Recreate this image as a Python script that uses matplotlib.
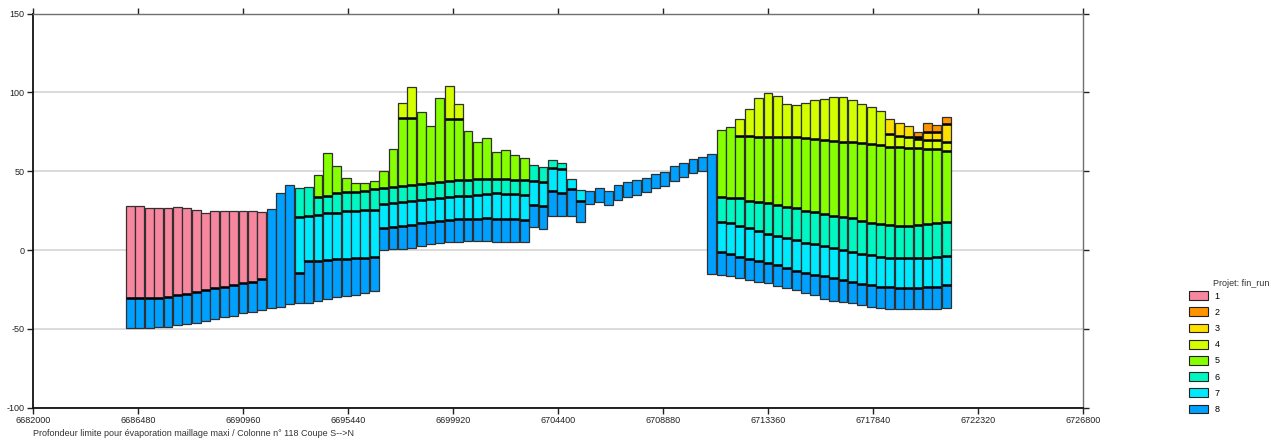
import numpy as np
import matplotlib.pyplot as plt
from matplotlib.patches import Patch

plt.rcParams['font.family'] = ['Liberation Sans', 'DejaVu Sans']
plt.rcParams['axes.unicode_minus'] = False

# --- cross-section S->N, one column every 400 m ---
first_cell = 6686160
cell_size = 400
n_cells = 88

# bottom of the deepest layer (8)
base = ([-49.6, -49.6, -49.6, -49.0, -48.6, -47.7, -46.9, -46.1, -45.0, -43.9, -42.6, -41.8, -40.1, -39.3, -38.0]
        + [-36.9, -35.8, -34.3]
        + [-33.8, -33.4, -32.1, -31.2, -30.0, -29.1, -28.5, -27.4, -25.8]
        + [0.0, 0.8, 0.9, 1.5, 2.6, 3.7, 4.3, 4.9, 5.3, 5.8, 5.8, 5.8, 5.3, 5.3, 5.1, 5.2]
        + [14.9, 13.2, 21.7, 21.6, 21.6, 17.6]
        + [29.0, 30.7, 28.6, 31.8, 33.5, 35.0, 37.1, 39.2, 40.7, 44.0, 46.6, 48.7, 50.4]
        + [-15.2]
        + [-15.8, -16.6, -18.0, -18.8, -20.0, -21.1, -22.5, -24.0, -25.4, -27.1, -28.5, -30.8]
        + [-32.0, -33.0, -33.8, -35.0, -36.1, -37.0, -37.6, -37.6, -37.6, -37.6, -37.6, -37.6, -37.0])

# top of each layer (None = layer absent in that column)
top8 = ([-30.6, -30.2, -30.2, -30.2, -29.6, -28.5, -27.9, -26.6, -25.3, -24.2, -23.2, -22.1, -21.1, -20.2, -18.5]
        + [26.0, 36.4, 41.3]
        + [-14.3, -6.9, -6.7, -6.3, -5.9, -5.6, -5.2, -4.8, -4.6]
        + [14.0, 14.7, 15.5, 15.9, 17.0, 17.6, 18.5, 19.1, 19.5, 19.7, 19.9, 20.1, 19.9, 19.7, 19.5, 19.1]
        + [28.8, 27.7, 37.7, 36.0, 38.6, 31.4]
        + [37.7, 39.6, 37.7, 41.3, 43.0, 44.5, 45.9, 48.1, 49.4, 53.6, 55.5, 57.6, 59.3]
        + [60.8]
        + [-1.2, -2.3, -4.2, -5.4, -6.7, -8.0, -9.7, -11.5, -13.1, -14.5, -15.6, -16.7]
        + [-17.9, -19.2, -20.2, -21.6, -22.4, -23.2, -23.6, -23.8, -23.8, -23.8, -23.6, -23.2, -22.1])

top7 = ([None] * 18
        + [21.2, 21.6, 22.3, 23.7, 23.7, 24.6, 25.0, 25.4, 25.5]
        + [29.5, 30.2, 30.7, 31.4, 31.8, 32.2, 32.9, 33.5, 34.3, 34.5, 35.0, 35.4, 36.0, 35.6, 35.4, 35.2]
        + [43.8, 43.2, 52.1, 51.5, 45.1, 38.1]
        + [None] * 14
        + [18.0, 17.0, 15.3, 13.8, 12.1, 10.2, 8.9, 7.5, 6.4, 4.7, 3.7, 2.4]
        + [1.1, 0.0, -1.2, -2.3, -3.3, -4.4, -4.9, -5.0, -5.1, -5.1, -4.9, -4.6, -3.5])

top6 = ([None] * 18
        + [39.2, 40.2, 33.5, 34.3, 36.0, 36.7, 37.1, 37.7, 38.6]
        + [39.5, 40.2, 40.7, 41.5, 42.1, 42.6, 43.4, 44.1, 44.7, 44.7, 44.9, 45.3, 45.4, 45.0, 44.7, 44.6]
        + [53.7, 52.9, 57.2, 55.5]
        + [None] * 16
        + [33.5, 32.8, 32.8, 31.4, 30.7, 29.7, 28.6, 27.5, 26.5, 24.8, 24.0, 22.6]
        + [21.6, 20.8, 20.2, 18.7, 17.4, 16.6, 15.9, 15.5, 15.5, 15.9, 16.4, 17.0, 17.6])

top5 = ([None] * 20
        + [47.7, 61.4, 53.6, 45.9, 42.4, 42.4, 43.8]
        + [50.2, 64.0, 83.6, 83.6, 87.8, 78.7, 96.3, 83.2, 83.2, 75.6, 68.8, 71.3, 62.4, 63.5, 60.3, 58.6]
        + [None] * 20
        + [76.2, 77.9, 72.3, 72.3, 71.9, 71.9, 71.9, 71.6, 71.6, 70.9, 70.3, 70.0]
        + [69.4, 68.8, 68.8, 68.2, 67.3, 66.7, 65.6, 65.2, 64.6, 64.6, 64.0, 64.0, 63.1])

top4 = ([None] * 29
        + [93.5, 103.3]
        + [None] * 3
        + [104.1, 92.9]
        + [None] * 29
        + [83.0, 89.3, 96.3, 99.9, 97.8, 92.7, 92.1, 93.6, 95.2, 96.1]
        + [97.0, 97.0, 95.2, 92.7, 90.6, 88.5, 73.7, 72.4, 72.0, 70.3, 69.9, 69.9, 68.8])

top3 = [None] * 81 + [83.0, 80.4, 78.7, 72.0, 75.1, 75.1, 80.0]

top2 = [None] * 84 + [75.1, 80.4, 79.4, 84.7]

top1 = ([28.0, 28.0, 26.5, 26.5, 26.5, 27.2, 26.5, 25.4, 23.7, 25.0, 25.0, 25.0, 25.0, 25.0, 24.2]
        + [None] * 73)

layer_names = ['1', '2', '3', '4', '5', '6', '7', '8']
layer_colors = {'1': '#F7869F', '2': '#FF9300', '3': '#FFDF00', '4': '#D4FF00',
                '5': '#86FF00', '6': '#00F7C2', '7': '#00EAFF', '8': '#00A0FF'}

x_ticks = [6682000, 6686480, 6690960, 6695440, 6699920, 6704400,
           6708880, 6713360, 6717840, 6722320, 6726800]
y_ticks = [-100, -50, 0, 50, 100, 150]

northing = first_cell + cell_size * np.arange(n_cells)
bar_w = 375

fig = plt.figure(figsize=(12.71, 4.41), dpi=100)
ax = fig.add_axes([33 / 1271, 33.3 / 441, 1050 / 1271, 394 / 441])

# stack the layers from the bottom (8) up to the top (1)
floor = np.array(base, dtype=float)
stack = [('8', top8), ('7', top7), ('6', top6), ('5', top5),
         ('4', top4), ('3', top3), ('2', top2), ('1', top1)]
contacts_x, contacts_y = [], []
for name, tops in stack:
    t = np.array([np.nan if v is None else v for v in tops], dtype=float)
    ok = ~np.isnan(t)
    ax.bar(northing[ok], t[ok] - floor[ok], bottom=floor[ok], width=bar_w,
           color=layer_colors[name], edgecolor='#303030', linewidth=0.9, zorder=3)
    # contact between this layer and the one below it
    if name != '8':
        contacts_x.extend(northing[ok])
        contacts_y.extend(floor[ok])
    floor[ok] = t[ok]

contacts_x = np.array(contacts_x)
ax.hlines(contacts_y, contacts_x - bar_w / 2, contacts_x + bar_w / 2,
          colors='black', linewidth=1.8, zorder=4)

ax.set_xlim(6682000, 6726800)
ax.set_ylim(-100, 150)
ax.set_xticks(x_ticks)
ax.set_xticklabels([str(v) for v in x_ticks])
ax.set_yticks(y_ticks)
ax.set_yticklabels([str(v) for v in y_ticks])
ax.yaxis.grid(True, color='#d8d8d8', linewidth=1.3)
ax.set_axisbelow(True)

ax.tick_params(direction='out', length=4, width=1, top=True, right=True,
               labelsize=6.5, pad=2, colors='#222222')
for side in ['left', 'bottom']:
    ax.spines[side].set_linewidth(1.3)
    ax.spines[side].set_color('#111111')
for side in ['top', 'right']:
    ax.spines[side].set_linewidth(1.0)
    ax.spines[side].set_color('#707070')

fig.text(33 / 1271, 1 - 434 / 441,
         'Profondeur limite pour évaporation maillage maxi / Colonne n° 118 Coupe S-->N',
         fontsize=6.5, color='#333333', ha='left', va='center')

# legend
handles = [Patch(facecolor=layer_colors[n], edgecolor='#222222', linewidth=0.8)
           for n in layer_names]
fig.text(1213 / 1271, 1 - 283 / 441, 'Projet: fin_run', fontsize=6.5,
         color='#333333', ha='left', va='center')
fig.legend(handles, layer_names, loc='upper left',
           bbox_to_anchor=(1183 / 1271, 1 - 285 / 441), frameon=False,
           fontsize=6.5, handlelength=2.1, handleheight=1.1,
           labelspacing=0.75, handletextpad=0.7, borderpad=0.2)

fig.savefig('out.png', dpi=100)
